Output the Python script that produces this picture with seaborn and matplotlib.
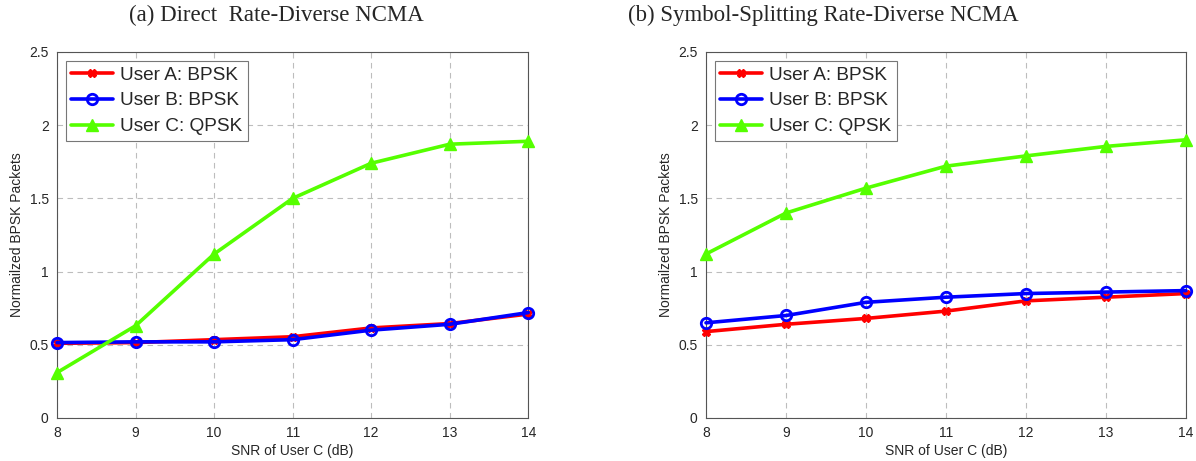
"""Rate-diverse NCMA: normalized BPSK packets vs SNR of user C."""

import matplotlib
matplotlib.use("Agg")
import matplotlib.pyplot as plt
import pandas as pd
import seaborn as sns

snr = [8, 9, 10, 11, 12, 13, 14]

# (a) Direct rate-diverse NCMA
direct_a = [0.51, 0.515, 0.535, 0.555, 0.615, 0.645, 0.71]
direct_b = [0.515, 0.52, 0.52, 0.535, 0.60, 0.64, 0.72]
direct_c = [0.31, 0.63, 1.12, 1.50, 1.74, 1.87, 1.89]

# (b) Symbol-splitting rate-diverse NCMA
split_a = [0.59, 0.64, 0.68, 0.73, 0.80, 0.825, 0.85]
split_b = [0.65, 0.70, 0.79, 0.825, 0.85, 0.86, 0.87]
split_c = [1.12, 1.40, 1.57, 1.72, 1.79, 1.855, 1.90]

labels = ["User A: BPSK", "User B: BPSK", "User C: QPSK"]
titles = ["(a) Direct  Rate-Diverse NCMA", "(b) Symbol-Splitting Rate-Diverse NCMA"]

sns.set_style("whitegrid")
plt.rcParams["font.family"] = ["Liberation Sans", "DejaVu Sans"]

styles = {
    labels[0]: dict(color="#ff0000", marker="X", ms=6, mfc="#ff0000", mec="#ff0000"),
    labels[1]: dict(color="#0000ff", marker="o", ms=7.5, mfc="none", mec="#0000ff", mew=2),
    labels[2]: dict(color="#55ff00", marker="^", ms=9, mfc="#55ff00", mec="#55ff00"),
}


def make_frame(a, b, c):
    rows = []
    for lab, vals in zip(labels, (a, b, c)):
        for x, y in zip(snr, vals):
            rows.append({"snr": x, "value": y, "user": lab})
    return pd.DataFrame(rows)


fig = plt.figure(figsize=(11.96, 4.61), dpi=100)
ax_l = fig.add_axes([0.0477, 0.0933, 0.394, 0.794])
ax_r = fig.add_axes([0.5903, 0.0933, 0.4013, 0.794])
title_x = [276 / 1196, 823 / 1196]

for ax, data, title, tx in zip(
    (ax_l, ax_r),
    (make_frame(direct_a, direct_b, direct_c), make_frame(split_a, split_b, split_c)),
    titles, title_x,
):
    for lab in labels:
        sub = data[data["user"] == lab]
        st = styles[lab]
        sns.lineplot(
            data=sub, x="snr", y="value", ax=ax, label=lab,
            color=st["color"], linewidth=2.6, marker=st["marker"],
            markersize=st["ms"], markerfacecolor=st["mfc"],
            markeredgecolor=st["mec"], markeredgewidth=st.get("mew", 1),
            clip_on=False, zorder=3,
        )
    ax.set_xlim(8, 14)
    ax.set_ylim(0, 2.5)
    ax.set_xticks(snr)
    ax.set_yticks([0, 0.5, 1, 1.5, 2, 2.5])
    ax.set_yticklabels(["0", "0.5", "1", "1.5", "2", "2.5"])
    ax.grid(True, color="#bdbdbd", linestyle=(0, (5, 4)), linewidth=0.8)
    ax.tick_params(direction="in", labelsize=10, length=4, color="#444444", pad=6)
    for sp in ax.spines.values():
        sp.set_color("#555555")
        sp.set_linewidth(0.8)
    ax.set_xlabel("SNR of User C (dB)", fontsize=10, labelpad=3)
    ax.set_ylabel("Normailzed BPSK Packets", fontsize=10, labelpad=4)
    fig.text(tx, 0.967, title, fontsize=16.5, ha="center", va="center",
             family=["Liberation Serif", "DejaVu Serif"])
    leg = ax.legend(loc="upper left", fontsize=13.7, frameon=True, fancybox=False,
                    edgecolor="#777777", framealpha=1, handlelength=2.2,
                    borderpad=0.3, labelspacing=0.45, handletextpad=0.35,
                    bbox_to_anchor=(0.0, 1.0), borderaxespad=0.45)
    leg.get_frame().set_linewidth(0.8)

fig.savefig("out.png", dpi=100)
plt.close(fig)
